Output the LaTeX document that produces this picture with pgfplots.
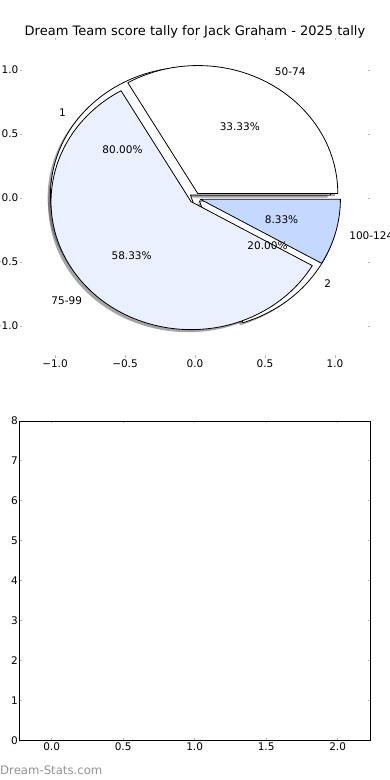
\documentclass[border=0pt]{standalone}
\usepackage{pgfplots}
\pgfplotsset{compat=1.18}
\usepackage{pgfplotstable}
\usepackage{fontspec}
\setmainfont{DejaVu Sans}
\definecolor{pieblueA}{RGB}{234,240,255}
\definecolor{pieblueB}{RGB}{197,216,255}
\definecolor{tickgray}{RGB}{185,185,185}
\newcommand\piefont{\fontsize{10.5}{12}\selectfont}

% pie drawn first (behind)
\pgfplotstableread{
value label color
80 1 white
20 2 white
}\pieA
% pie drawn on top
\pgfplotstableread{
value label color
4 50-74 white
7 75-99 pieblueA
1 100-124 pieblueB
}\pieB

% #1 table, #2 explode, #3 mode (0 shadow, 1 wedge, 2 text)
\newcommand\drawpie[3]{%
  \pgfplotstablegetrowsof{#1}%
  \pgfmathtruncatemacro\pielast{\pgfplotsretval-1}%
  \def\pietotal{0}%
  \pgfplotsforeachungrouped \ii in {0,...,\pielast}{%
    \pgfplotstablegetelem{\ii}{value}\of{#1}%
    \pgfmathsetmacro\pietotal{\pietotal+\pgfplotsretval}%
  }%
  \def\piecum{0}%
  \pgfplotsforeachungrouped \ii in {0,...,\pielast}{%
    \pgfplotstablegetelem{\ii}{value}\of{#1}\let\pv\pgfplotsretval
    \pgfplotstablegetelem{\ii}{color}\of{#1}\let\pc\pgfplotsretval
    \pgfplotstablegetelem{\ii}{label}\of{#1}\let\pl\pgfplotsretval
    \pgfmathsetmacro\aone{360*(\piecum/\pietotal)}%
    \pgfmathsetmacro\piecum{\piecum+\pv}%
    \pgfmathsetmacro\atwo{360*(\piecum/\pietotal)}%
    \pgfmathsetmacro\amid{(\aone+\atwo)/2}%
    \pgfmathsetmacro\pdx{#2*cos(\amid)}%
    \pgfmathsetmacro\pdy{#2*sin(\amid)}%
    \ifcase#3
      \pgfmathsetmacro\sx{\pdx-0.02}\pgfmathsetmacro\sy{\pdy-0.02}%
      \pgfmathsetmacro\qx{\sx+cos(\aone)}\pgfmathsetmacro\qy{\sy+sin(\aone)}%
      \fill[black!70, fill opacity=0.5] (axis cs:\sx,\sy) -- (axis cs:\qx,\qy)
        arc[start angle=\aone, end angle=\atwo, x radius=140pt, y radius=128pt] -- cycle;%
    \or
      \pgfmathsetmacro\qx{\pdx+cos(\aone)}\pgfmathsetmacro\qy{\pdy+sin(\aone)}%
      \filldraw[fill=\pc, draw=black, line width=0.8pt, line join=round] (axis cs:\pdx,\pdy) -- (axis cs:\qx,\qy)
        arc[start angle=\aone, end angle=\atwo, x radius=140pt, y radius=128pt] -- cycle;%
    \or
      \pgfmathsetmacro\lx{\pdx+1.1*cos(\amid)}\pgfmathsetmacro\ly{\pdy+1.1*sin(\amid)}%
      \pgfmathsetmacro\tx{\pdx+0.6*cos(\amid)}\pgfmathsetmacro\ty{\pdy+0.6*sin(\amid)}%
      \pgfmathsetmacro\pct{100*(\pv/\pietotal)}%
      \pgfmathprintnumberto[fixed,fixed zerofill,precision=2,assume math mode=true]{\pct}\pctstr
      \pgfmathtruncatemacro\lpos{\lx>0}%
      \ifnum\lpos=1 \def\lanchor{west}\else\def\lanchor{east}\fi
      \node[anchor=\lanchor, inner sep=0pt, font=\piefont] at (axis cs:\lx,\ly) {\pl};%
      \node[inner sep=0pt, font=\piefont] at (axis cs:\tx,\ty) {\pctstr\%};%
    \fi
  }%
}

\begin{document}
\begin{tikzpicture}
\path[use as bounding box] (0pt,0pt) rectangle (390pt,780pt);
\fill[white] (0pt,0pt) rectangle (390pt,780pt);
% top axis with the two pies
\begin{axis}[
  at={(20pt,422pt)}, anchor=south west,
  scale only axis, width=350pt, height=320pt,
  xmin=-1.25, xmax=1.25, ymin=-1.25, ymax=1.25,
  axis line style={draw=none},
  xtick={-1,-0.5,0,0.5,1},
  xticklabels={−1.0,−0.5,0.0,0.5,1.0},
  ytick={-1,-0.5,0,0.5,1},
  yticklabels={−1.0,−0.5,0.0,0.5,1.0},
  tick style={draw=tickgray, line width=0.9pt},
  major tick length=2.5pt,
  tick align=inside,
  ticklabel style={font=\piefont},
  xticklabel style={inner sep=1.5pt},
  yticklabel style={inner sep=1.5pt},
  /pgf/number format/assume math mode=true,
  title={Dream Team score tally for Jack Graham - 2025 tally},
  title style={font=\fontsize{13}{15}\selectfont, yshift=-10pt},
  clip=false,
]
\pgfplotsextra{%
  \drawpie{\pieA}{0.04}{0}%
  \drawpie{\pieB}{0.04}{0}%
  \drawpie{\pieA}{0.04}{1}%
  \drawpie{\pieB}{0.04}{1}%
  \drawpie{\pieA}{0.04}{2}%
  \drawpie{\pieB}{0.04}{2}%
}
\end{axis}
% bottom empty axis
\begin{axis}[
  at={(19.5pt,39.7pt)}, anchor=south west,
  scale only axis, width=351pt, height=319.3pt,
  xmin=-0.225, xmax=2.23, ymin=0, ymax=8,
  xtick={0,0.5,1,1.5,2},
  xticklabels={0.0,0.5,1.0,1.5,2.0},
  ytick={0,1,2,3,4,5,6,7,8},
  yticklabels={0,1,2,3,4,5,6,7,8},
  axis line style={draw=black, line width=0.8pt},
  tick style={draw=tickgray, line width=0.9pt},
  major tick length=2.5pt,
  tick align=inside,
  ticklabel style={font=\piefont},
  xticklabel style={inner sep=2.5pt},
  yticklabel style={inner sep=1.5pt},
  /pgf/number format/assume math mode=true,
]
\end{axis}
\node[anchor=west, inner sep=0pt, text=black!42, font=\fontsize{11.7}{14}\selectfont] at (0pt,10pt) {Dream-Stats.com};
\end{tikzpicture}
\end{document}
